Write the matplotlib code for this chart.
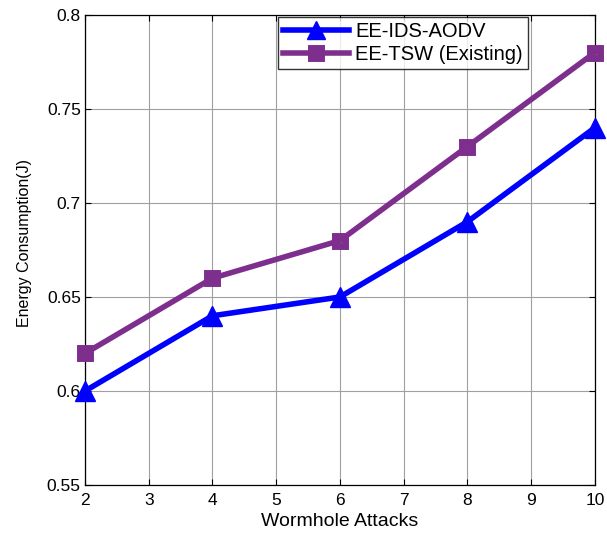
import matplotlib
matplotlib.use("Agg")
import matplotlib.pyplot as plt

attacks = [2, 4, 6, 8, 10]
ee_ids_aodv = [0.60, 0.64, 0.65, 0.69, 0.74]
ee_tsw = [0.62, 0.66, 0.68, 0.73, 0.78]
x_ticks = [2, 3, 4, 5, 6, 7, 8, 9, 10]
y_ticks = [0.55, 0.6, 0.65, 0.7, 0.75, 0.8]
y_labels = ["0.55", "0.6", "0.65", "0.7", "0.75", "0.8"]

plt.rcParams["font.family"] = ["Liberation Sans", "DejaVu Sans"]

fig = plt.figure(figsize=(6.07, 5.33), dpi=100)
ax = fig.add_axes([0.14, 0.09, 0.84, 0.882])

ax.plot(attacks, ee_ids_aodv, color="#0000FF", lw=4, marker="^",
        markersize=15, markerfacecolor="#0000FF", markeredgecolor="#0000FF",
        label="EE-IDS-AODV", clip_on=False, zorder=3)
ax.plot(attacks, ee_tsw, color="#7E2F8E", lw=4, marker="s",
        markersize=7.5, markerfacecolor="none", markeredgecolor="#7E2F8E",
        markeredgewidth=5, label="EE-TSW (Existing)", clip_on=False, zorder=3)

ax.set_xlim(2, 10)
ax.set_ylim(0.55, 0.8)
ax.set_xticks(x_ticks)
ax.set_yticks(y_ticks)
ax.set_yticklabels(y_labels)
ax.tick_params(direction="in", labelsize=12.5, length=4, width=0.8,
               top=True, right=True)
ax.tick_params(axis="x", pad=6)
ax.tick_params(axis="y", pad=3)
ax.grid(True, color="#a0a0a0", lw=0.8, linestyle="-")
for s in ax.spines.values():
    s.set_linewidth(0.9)

ax.set_xlabel("Wormhole Attacks", fontsize=14, labelpad=3)
ax.set_ylabel("Energy Consumption(J)", fontsize=11.5)
ax.yaxis.set_label_coords(-0.104, 0.515)

leg = ax.legend(loc="upper left", bbox_to_anchor=(0.378, 0.996), fontsize=14.5,
                frameon=True, fancybox=False, edgecolor="black",
                handlelength=3.3, borderpad=0.25, labelspacing=0.2,
                handletextpad=0.3, borderaxespad=0.0, markerscale=0.9)
leg.get_frame().set_linewidth(1.0)

fig.savefig("out.png", dpi=100)
